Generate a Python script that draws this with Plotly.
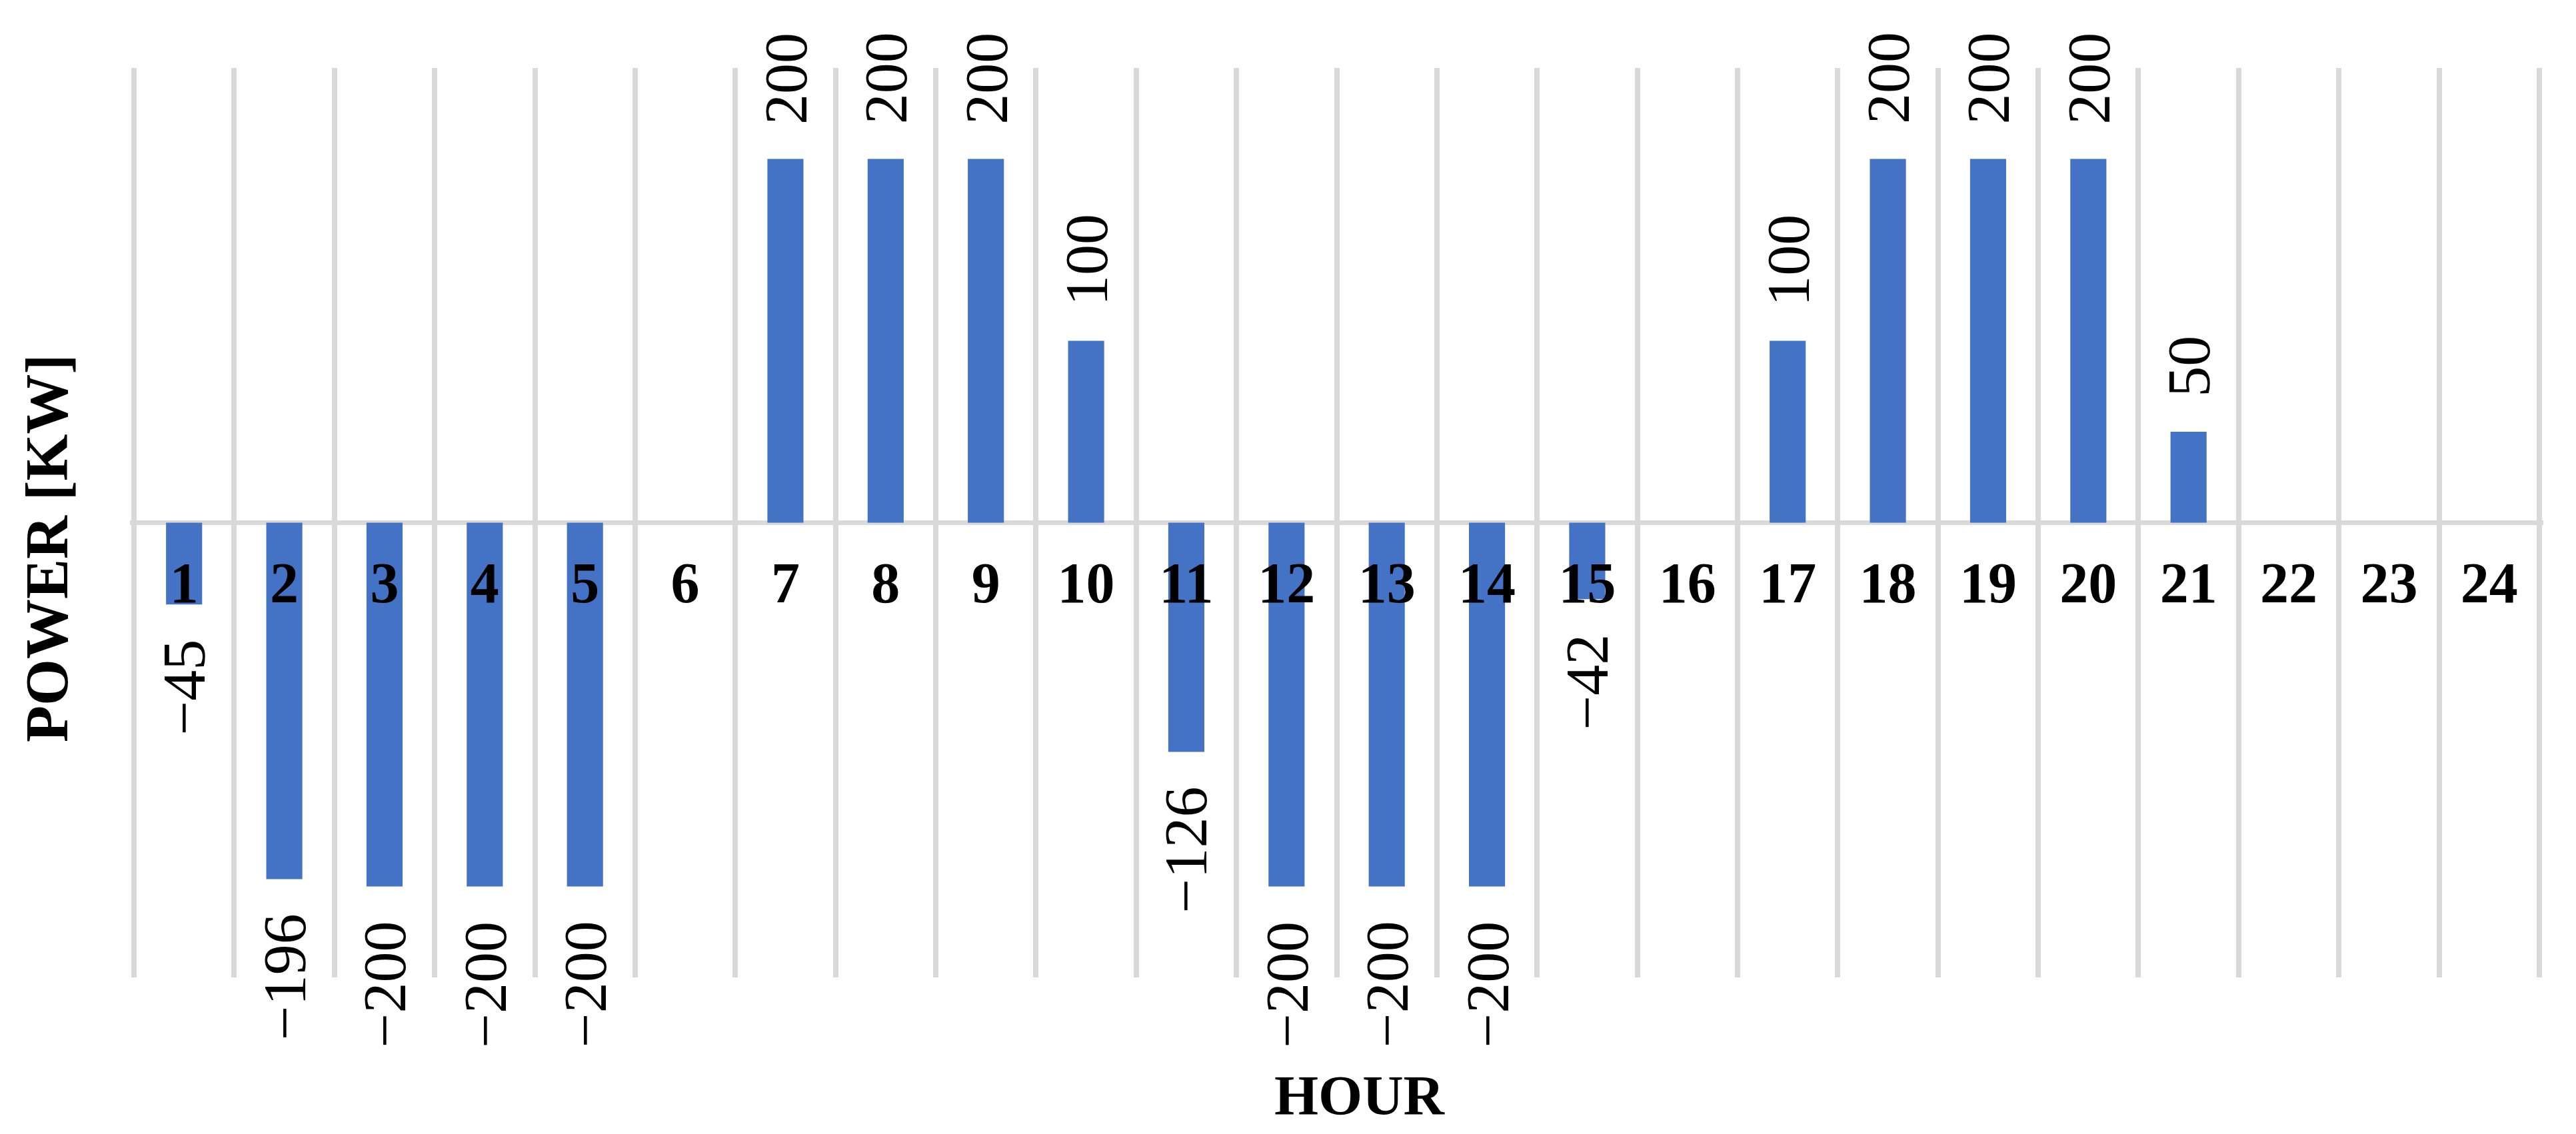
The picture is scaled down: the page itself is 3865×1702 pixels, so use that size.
import plotly.graph_objects as go

# Datos del grafico
hours = list(range(1, 25))
hour_labels = [str(h) for h in hours]
power = [-45, -196, -200, -200, -200, 0, 200, 200, 200, 100, -126, -200,
         -200, -200, -42, 0, 100, 200, 200, 200, 50, 0, 0, 0]

# Estilo
colors = {
    'bar': '#4472C4',
    'grid': '#D9D9D9',
    'text': '#000000'
}
font_family = "Liberation Serif, Times New Roman, serif"

W, H = 3865, 1702
# margenes un poco mas chicos para que las lineas de borde queden dentro
L, R, T, B = 187, 57, 94, 243
pad = 0.04

fig = go.Figure()
fig.add_trace(go.Bar(x=hours, y=power, marker_color=colors['bar'],
                     marker_line_width=0, hoverinfo='skip'))

# Etiquetas de datos rotadas (solo valores distintos de cero)
for h, v in zip(hours, power):
    if v == 0:
        continue
    label = str(v) if v > 0 else "\u2212" + str(abs(v))
    fig.add_annotation(
        x=h, y=v, text=label, showarrow=False, textangle=-90,
        xanchor='center', yanchor='bottom' if v > 0 else 'top',
        yshift=50 if v > 0 else -50,
        font=dict(family=font_family, size=92, color=colors['text'])
    )

# Titulos de ejes (posiciones en pixeles -> fraccion del area de trazado)
def px_to_paper(xp, yp):
    return (xp - L) / (W - L - R), 1 - (yp - T) / (H - T - B)

tx, ty = px_to_paper(62, 815)
fig.add_annotation(
    x=tx, y=ty, xref='paper', yref='paper', text="<b>POWER [KW]</b>",
    showarrow=False, textangle=-90, xanchor='center', yanchor='middle',
    font=dict(family=font_family, size=90, color=colors['text'])
)
tx, ty = px_to_paper(2033, 1636)
fig.add_annotation(
    x=tx, y=ty, xref='paper', yref='paper', text="<b>HOUR</b>",
    showarrow=False, xanchor='center', yanchor='middle',
    font=dict(family=font_family, size=85, color=colors['text'])
)

fig.update_layout(
    width=W, height=H,
    margin=dict(l=L, r=R, t=T, b=B),
    plot_bgcolor='white', paper_bgcolor='white',
    bargap=0.64, showlegend=False
)
fig.update_xaxes(
    range=[0.5 - pad, 24.5 + pad],
    tickvals=hours, ticktext=hour_labels,
    showgrid=False,
    minor=dict(tickvals=[h - 0.5 for h in hours] + [24.5], showgrid=True,
               gridcolor=colors['grid'], gridwidth=8, ticks=''),
    anchor='free', position=0.5, showline=False, ticks='',
    zeroline=False,
    ticklabelstandoff=32,
    tickfont=dict(family=font_family, size=86, color=colors['text'], weight='bold')
)
fig.update_yaxes(
    range=[-250, 250], showgrid=False, showticklabels=False,
    zeroline=True, zerolinecolor=colors['grid'], zerolinewidth=7
)

fig.write_html("out.html")
